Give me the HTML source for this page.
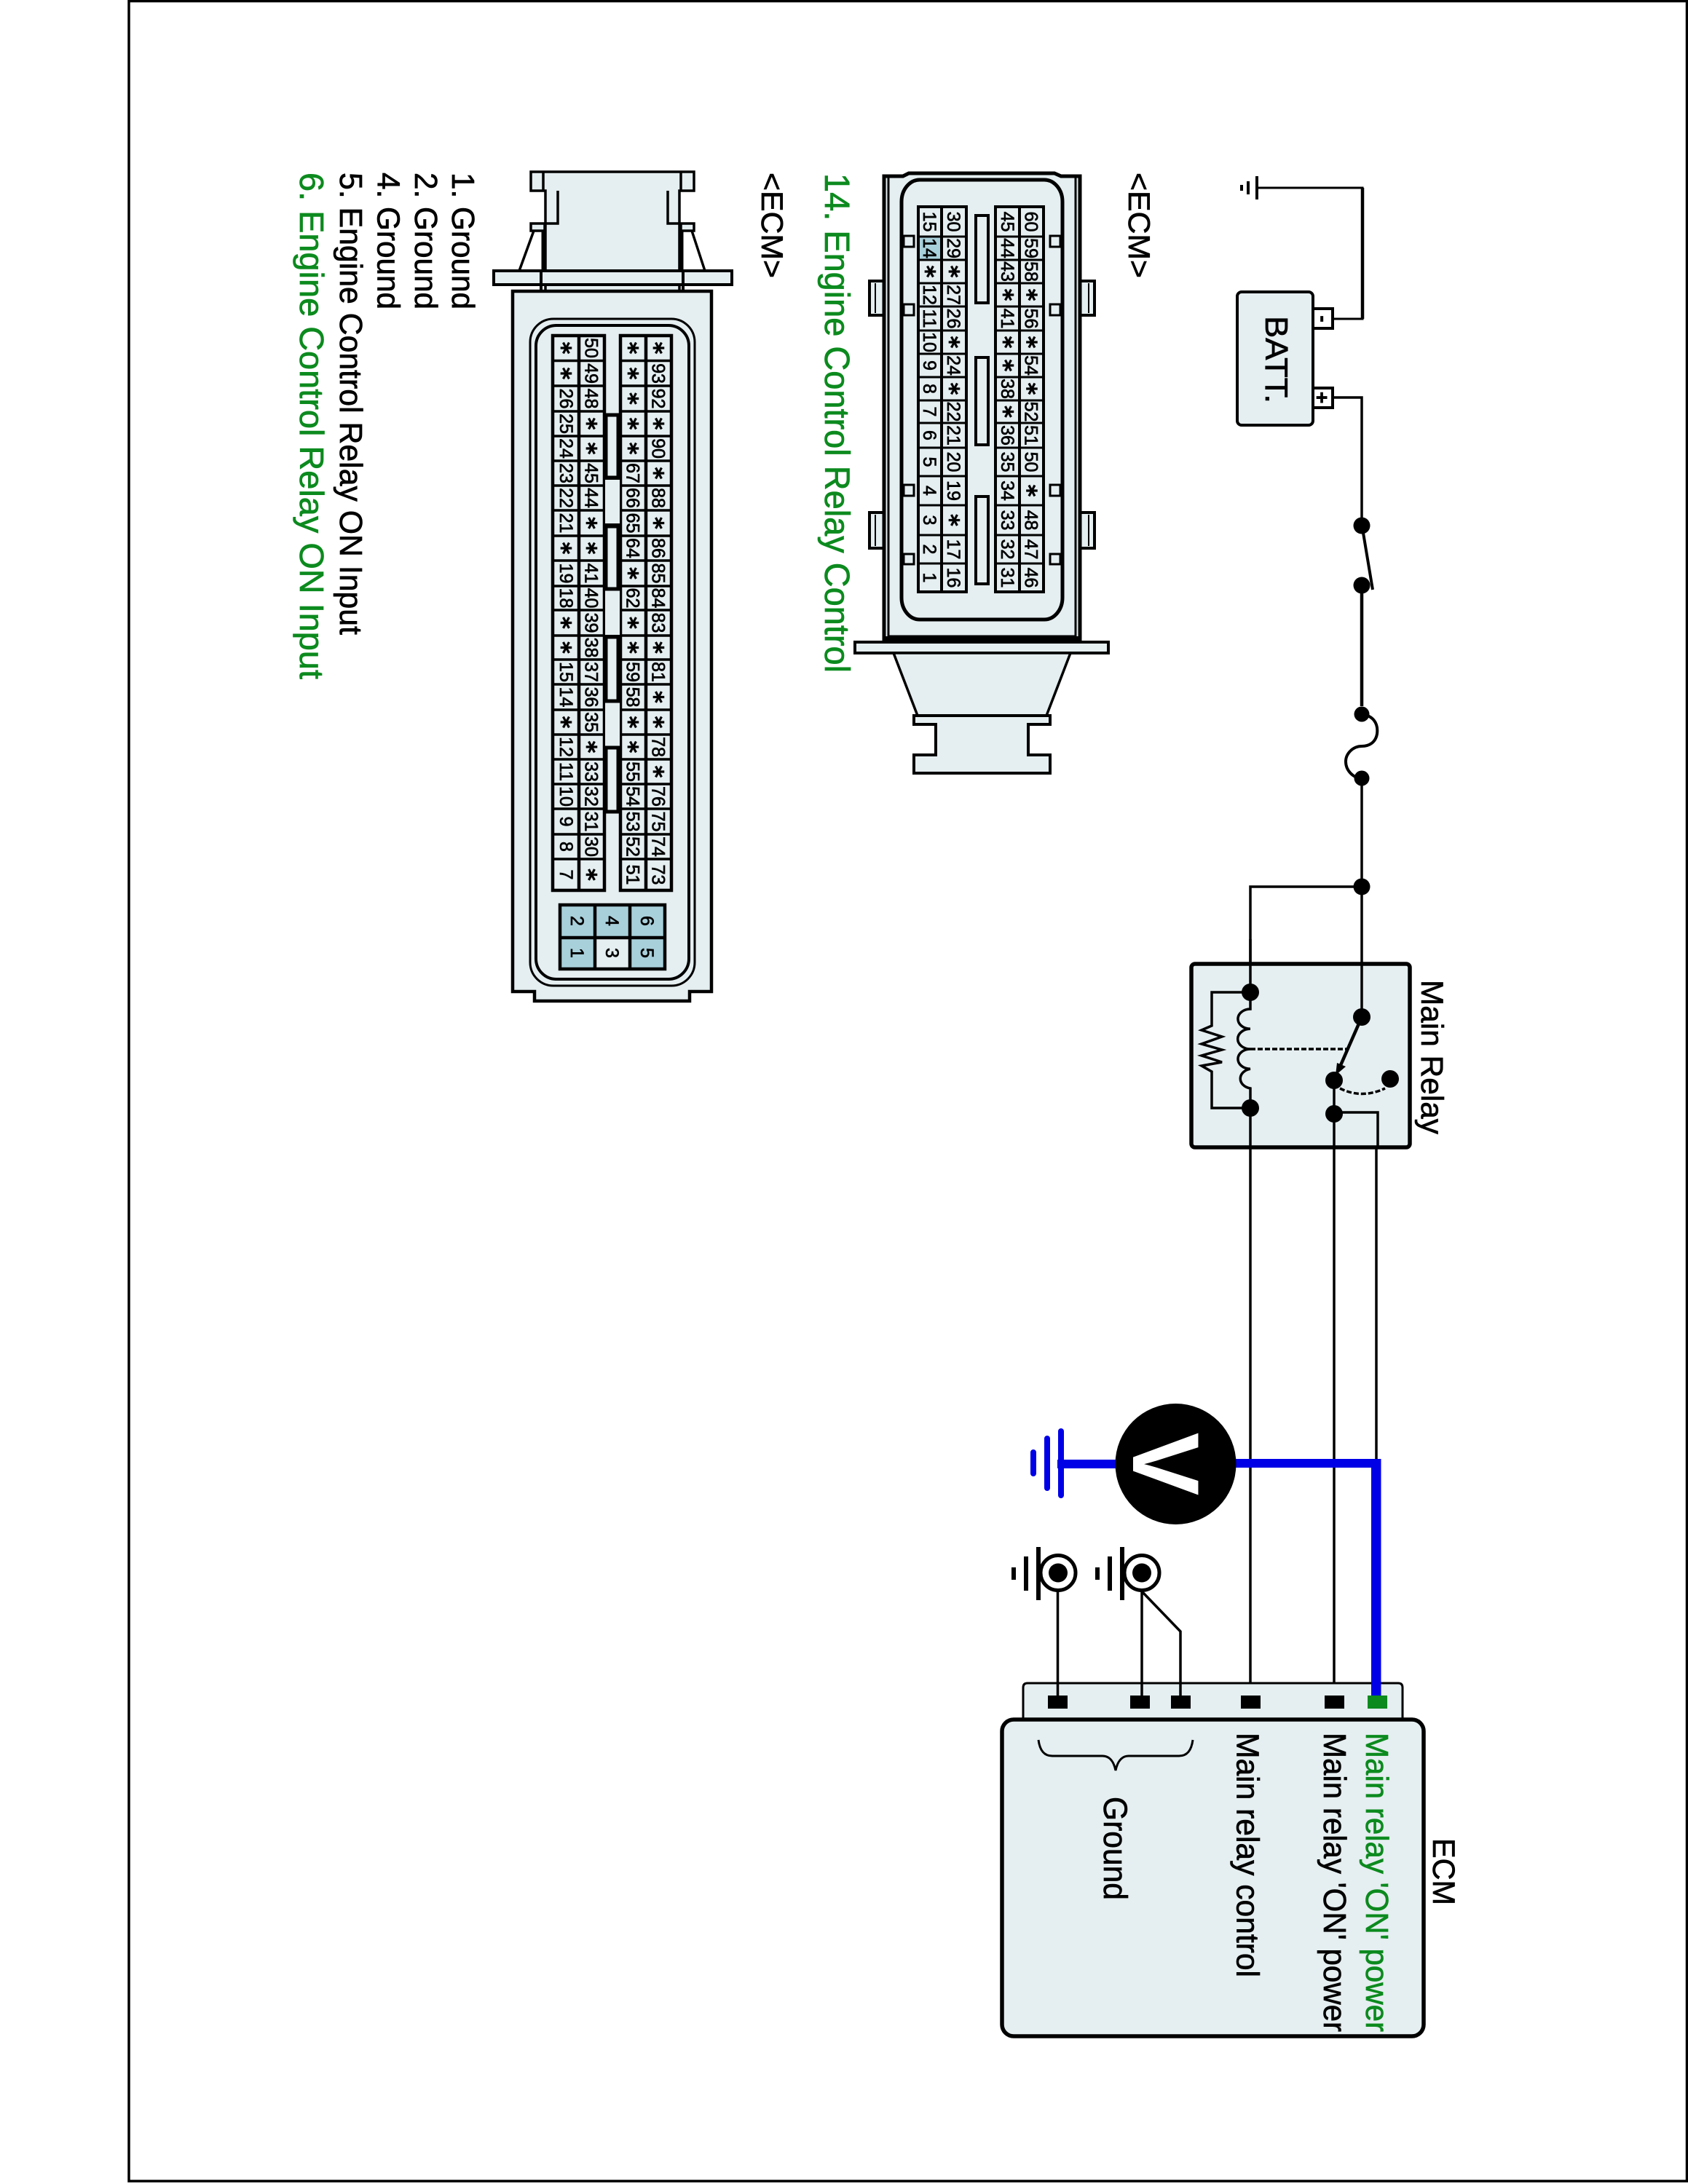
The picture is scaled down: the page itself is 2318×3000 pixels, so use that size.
<!DOCTYPE html>
<html><head><meta charset="utf-8"><title>Main Relay Circuit</title>
<style>
html,body{margin:0;padding:0;background:#fff}
svg{display:block;stroke-width:3.5}
text{font-family:"Liberation Sans",sans-serif;fill:#000;stroke:#000;stroke-width:.7}
text.g{fill:#0c8a1e;stroke:#0c8a1e}
.p{font-size:25px;text-anchor:middle}
.s{font-family:"DejaVu Sans",sans-serif;font-weight:bold;font-size:32px;text-anchor:middle}
.l{fill:#e5eef0;stroke:#000}
.n{fill:none;stroke:#000}
</style></head><body>
<svg width="2318" height="3000" viewBox="0 0 2318 3000" xmlns="http://www.w3.org/2000/svg">
<rect width="2318" height="3000" fill="#fff"/>
<path d="M177 0V2996H2316.5V1.5H177" fill="none" stroke="#000" stroke-width="3.5"/>

<!-- connector 1 -->
<path class="l" d="M1174 882H1522V897H1174Z" stroke-width="4"/>
<path class="l" d="M1227 897L1260 983H1437L1470 897Z" stroke-width="3.5"/>
<path class="l" d="M1255 983H1442V995H1412V1037H1442V1062H1255V1037H1285V995H1255Z" stroke-width="4"/>
<path class="l" stroke-width="4" d="M1194 386H1215V433H1194ZM1194 704H1215V753H1194ZM1482 386H1503V433H1482ZM1482 704H1503V753H1482Z"/>
<path class="n" stroke-width="2" d="M1202 389V430M1202 707V750M1495 389V430M1495 707V750"/>
<path class="l" stroke-width="5" d="M1214 242H1240L1248 238H1448L1457 242H1483V880H1214Z"/>
<path class="n" stroke-width="3" d="M1220 244V874H1477V244"/>
<path class="n" stroke-width="4" d="M1214 876H1483"/>
<rect x="1238" y="247" width="221" height="604" rx="25" ry="30" fill="#e5eef0" stroke="#000" stroke-width="5"/>
<path class="l" stroke-width="3" d="M1241 324H1255V339H1241ZM1241 418H1255V433H1241ZM1241 666H1255V681H1241ZM1241 761H1255V775H1241ZM1442 324H1456V339H1442ZM1442 418H1456V433H1442ZM1442 666H1456V681H1442ZM1442 761H1456V775H1442Z"/>
<rect x="1340" y="296" width="17" height="120" class="l" stroke-width="4"/>
<rect x="1340" y="491" width="17" height="120" class="l" stroke-width="4"/>
<rect x="1340" y="682" width="17" height="120" class="l" stroke-width="4"/>
<rect x="1262" y="325" width="31" height="32" fill="#a8d0db"/>
<path class="n" d="M1261 284H1327V813H1261ZM1293 284V813M1367 284H1433V813H1367ZM1400 284V813" stroke-width="4"/>
<path class="n" stroke-width="3" d="M1261 325H1327M1261 357H1327M1261 389H1327M1261 421H1327M1261 454H1327M1261 486H1327M1261 518H1327M1261 550H1327M1261 581H1327M1261 615H1327M1261 654H1327M1261 694H1327M1261 735H1327M1261 774H1327M1367 325H1433M1367 357H1433M1367 389H1433M1367 421H1433M1367 454H1433M1367 486H1433M1367 518H1433M1367 550H1433M1367 581H1433M1367 615H1433M1367 654H1433M1367 694H1433M1367 735H1433M1367 774H1433"/>

<!-- connector 2 -->
<path class="l" d="M729 236H953V262H933V400H749V262H729Z"/>
<path class="n" d="M746 236V262M935 236V262M766 262V307H749M917 262V307H933"/>
<path class="l" d="M729 307H748V317H729ZM935 307H953V317H935Z"/>
<path class="n" d="M733 317L713 372M950 317L968 372"/>
<path d="M746 317V372M936 317V372" stroke="#000" stroke-width="5" fill="none"/>
<path class="l" d="M678 372H1005V391H678Z" stroke-width="4"/>
<path class="n" d="M743 372V400M938 372V400" stroke-width="4"/>
<path class="l" stroke-width="4.5" d="M704 400H977V1362H947V1375H734V1362H704Z"/>
<rect x="728" y="438" width="226" height="916" rx="32" fill="none" stroke="#000" stroke-width="3"/>
<rect x="736" y="447" width="210" height="898" rx="28" fill="none" stroke="#000" stroke-width="4"/>
<path class="n" d="M759 461H830V1223H759ZM795 461V1223M852 461H922V1223H852ZM887 461V1223" stroke-width="4.5"/>
<path class="n" stroke-width="3.5" d="M759 495.5H830M759 530H830M759 565H830M759 599H830M759 633H830M759 667H830M759 701H830M759 736H830M759 770H830M759 805H830M759 838H830M759 873H830M759 906H830M759 940H830M759 975H830M759 1009H830M759 1043H830M759 1077H830M759 1111H830M759 1146H830M759 1180H830M852 495.5H922M852 530H922M852 565H922M852 599H922M852 633H922M852 667H922M852 701H922M852 736H922M852 770H922M852 805H922M852 838H922M852 873H922M852 906H922M852 940H922M852 975H922M852 1009H922M852 1043H922M852 1077H922M852 1111H922M852 1146H922M852 1180H922"/>
<path fill="#e5eef0" stroke="#000" stroke-width="2" d="M830 658H852V720H830ZM830 809H852V873H830ZM830 963H852V1027H830Z"/>
<rect x="832" y="570" width="17" height="86" class="l" stroke-width="5"/>
<rect x="832" y="723" width="17" height="86" class="l" stroke-width="5"/>
<rect x="832" y="875" width="17" height="88" class="l" stroke-width="5"/>
<rect x="832" y="1027" width="17" height="88" class="l" stroke-width="5"/>
<rect x="769" y="1243" width="144" height="88" fill="#a8d0db"/>
<rect x="817" y="1288" width="48" height="43" fill="#e5eef0"/>
<path class="n" stroke-width="4.5" d="M769 1243H913V1331H769ZM817 1243V1331M865 1243V1331M769 1288H913"/>

<!-- battery section -->
<path class="n" d="M1726 258H1871V438H1830" stroke-width="3"/>
<path d="M1871 258V438" stroke="#000" stroke-width="4.5"/>
<path d="M1726 242V274M1714 249V267M1705 254V262" stroke="#000" stroke-width="4" fill="none"/>
<rect x="1699" y="401" width="104" height="183" rx="6" class="l" stroke-width="4"/>
<path d="M1803 424H1830V451H1803ZM1803 533H1830V560H1803Z" fill="#fff" stroke="#000" stroke-width="4"/>
<path class="n" d="M1830 546H1870V722"/>
<circle cx="1870" cy="722" r="11.5"/><circle cx="1870" cy="804" r="11.5"/>
<path d="M1872 732L1885 810" stroke="#000" stroke-width="4" fill="none"/>
<path d="M1870 804V970" stroke="#000" stroke-width="4.5"/>
<circle cx="1870" cy="981" r="10.5"/><circle cx="1870" cy="1069" r="10.5"/>
<path class="n" stroke-width="4" d="M1870 981C1885 983 1893 993 1891 1008C1889 1020 1880 1025 1870 1025C1858 1025 1848 1035 1848 1046C1848 1058 1858 1069 1870 1069"/>
<path class="n" d="M1870 1069V1324M1870 1218H1717V1363"/>
<circle cx="1870" cy="1218" r="11.5"/>

<!-- relay -->
<rect x="1636" y="1324" width="300" height="252" rx="5" fill="#e5eef0" stroke="#000" stroke-width="5.5"/>
<path class="n" d="M1717 1290V1386A17 13.6 0 0 0 1717 1413.3A17 13.6 0 0 0 1717 1441A17 13.6 0 0 0 1717 1468.3A17 13.6 0 0 0 1717 1495V1576"/>
<path class="n" d="M1717 1363H1664V1409L1650 1415L1678 1424L1650 1434L1678 1442L1650 1450L1678 1459L1650 1464L1664 1472V1522H1717"/>
<path class="n" stroke-dasharray="7 3" d="M1717 1441H1852"/>
<path d="M1870 1324V1397" class="n"/>
<path d="M1870 1397L1838 1470" stroke="#000" stroke-width="4.5" fill="none"/>
<path d="M1834 1477L1836 1460L1848 1465Z"/>
<path class="n" stroke-dasharray="7 3" d="M1840 1495Q1870 1510 1902 1495"/>
<path class="n" d="M1832 1484V1576M1832 1528H1892V1576"/>
<circle cx="1717" cy="1363" r="12"/><circle cx="1717" cy="1522" r="12"/><circle cx="1870" cy="1397" r="12"/><circle cx="1832" cy="1484" r="12"/><circle cx="1909" cy="1482" r="12"/><circle cx="1832" cy="1530" r="12"/>
<path class="n" d="M1717 1576V2329M1832 1576V2329M1890 1576V2005"/>

<!-- ECM box -->
<path class="l" d="M1405 2362V2318Q1405 2312 1411 2312H1920Q1926 2312 1926 2318V2362" stroke-width="3"/>
<rect x="1376" y="2362" width="579" height="435" rx="16" fill="#e5eef0" stroke="#000" stroke-width="5.5"/>
<path d="M1439 2329h27v18h-27zM1552 2329h27v18h-27zM1608 2329h27v18h-27zM1704 2329h27v18h-27zM1819 2329h27v18h-27z"/>
<rect x="1878" y="2329" width="27" height="18" fill="#0c8a1e"/>
<path class="n" stroke-width="3" d="M1426 2390C1428 2405 1434 2412 1445 2412H1514C1525 2412 1530 2422 1532 2432C1534 2422 1539 2412 1550 2412H1619C1630 2412 1636 2405 1638 2390"/>
<path class="n" d="M1452.5 2186V2329M1568 2186V2329M1568 2186L1621 2241V2329"/>

<!-- grounds -->
<g fill="none" stroke="#000">
<circle cx="1453" cy="2160.5" r="24" stroke-width="5" fill="#fff"/>
<circle cx="1568" cy="2160.5" r="24" stroke-width="5" fill="#fff"/>
<path stroke-width="6" d="M1426 2125V2198M1409 2138V2185M1392 2153V2170M1541 2125V2198M1524 2138V2185M1507 2153V2170"/>
</g>
<circle cx="1453" cy="2160.5" r="13"/><circle cx="1568" cy="2160.5" r="13"/>

<!-- voltmeter -->
<path d="M1452 2011H1697M1697 2010H1889V2329" fill="none" stroke="#0000e6" stroke-width="12"/>
<path d="M1890 2004V2329" stroke="#0000e6" stroke-width="13" fill="none"/>
<path d="M1457 1966V2054M1438 1976V2044M1419 1995V2024" stroke="#0000e6" stroke-width="8" stroke-linecap="round" fill="none"/>
<ellipse cx="1614.5" cy="2011" rx="83" ry="83"/>

<!-- all rotated text: inside this group x = page y, y = -(page x) -->
<g transform="rotate(90)">
<text x="238" y="-1133" font-size="48" class="g" textLength="686" lengthAdjust="spacingAndGlyphs">14. Engine Control Relay Control</text>
<text x="237" y="-1550" font-size="42" textLength="145" lengthAdjust="spacingAndGlyphs">&lt;ECM&gt;</text>
<text x="237" y="-1046" font-size="42" textLength="145" lengthAdjust="spacingAndGlyphs">&lt;ECM&gt;</text>
<text x="237" y="-621" font-size="44" textLength="188" lengthAdjust="spacingAndGlyphs">1. Ground</text>
<text x="237" y="-570" font-size="44" textLength="188" lengthAdjust="spacingAndGlyphs">2. Ground</text>
<text x="237" y="-518.5" font-size="44" textLength="188" lengthAdjust="spacingAndGlyphs">4. Ground</text>
<text x="237" y="-467" font-size="44" textLength="635" lengthAdjust="spacingAndGlyphs">5. Engine Control Relay ON Input</text>
<text x="237" y="-412" font-size="46" class="g" textLength="696" lengthAdjust="spacingAndGlyphs">6. Engine Control Relay ON Input</text>
<text x="434" y="-1738" font-size="44" textLength="120" lengthAdjust="spacingAndGlyphs">BATT.</text>
<text x="1346" y="-1952" font-size="43" textLength="212" lengthAdjust="spacingAndGlyphs">Main Relay</text>
<text x="2525" y="-1968" font-size="43" textLength="92" lengthAdjust="spacingAndGlyphs">ECM</text>
<text x="2380" y="-1876" font-size="44" class="g" textLength="411" lengthAdjust="spacingAndGlyphs">Main relay 'ON' power</text>
<text x="2380" y="-1818" font-size="44" textLength="411" lengthAdjust="spacingAndGlyphs">Main relay 'ON' power</text>
<text x="2380" y="-1698.5" font-size="44" textLength="336" lengthAdjust="spacingAndGlyphs">Main relay control</text>
<text x="2468" y="-1516" font-size="45" textLength="142" lengthAdjust="spacingAndGlyphs">Ground</text>
<text x="438" y="-1808" font-size="28" font-weight="bold" text-anchor="middle">-</text>
<text x="546" y="-1806" font-size="28" font-weight="bold" text-anchor="middle">+</text>
<text x="2011" y="-1556" font-size="130" font-weight="bold" text-anchor="middle" style="fill:#fff;stroke:none">V</text>

<!-- connector 1 pins -->
<g>
<text class="p" x="304.5" y="-1268">15</text><text class="p" x="341" y="-1268">14</text><text class="s" x="373" y="-1261">*</text><text class="p" x="405" y="-1268">12</text><text class="p" x="437.5" y="-1268">11</text><text class="p" x="470" y="-1268">10</text><text class="p" x="502" y="-1268">9</text><text class="p" x="534" y="-1268">8</text><text class="p" x="565.5" y="-1268">7</text><text class="p" x="598" y="-1268">6</text><text class="p" x="634.5" y="-1268">5</text><text class="p" x="674" y="-1268">4</text><text class="p" x="714.5" y="-1268">3</text><text class="p" x="754.5" y="-1268">2</text><text class="p" x="793.5" y="-1268">1</text>
<text class="p" x="304.5" y="-1301">30</text><text class="p" x="341" y="-1301">29</text><text class="s" x="373" y="-1294">*</text><text class="p" x="405" y="-1301">27</text><text class="p" x="437.5" y="-1301">26</text><text class="s" x="470" y="-1294">*</text><text class="p" x="502" y="-1301">24</text><text class="s" x="534" y="-1294">*</text><text class="p" x="565.5" y="-1301">22</text><text class="p" x="598" y="-1301">21</text><text class="p" x="634.5" y="-1301">20</text><text class="p" x="674" y="-1301">19</text><text class="s" x="714.5" y="-1294">*</text><text class="p" x="754.5" y="-1301">17</text><text class="p" x="793.5" y="-1301">16</text>
<text class="p" x="304.5" y="-1375">45</text><text class="p" x="341" y="-1375">44</text><text class="p" x="373" y="-1375">43</text><text class="s" x="405" y="-1368">*</text><text class="p" x="437.5" y="-1375">41</text><text class="s" x="470" y="-1368">*</text><text class="s" x="502" y="-1368">*</text><text class="p" x="534" y="-1375">38</text><text class="s" x="565.5" y="-1368">*</text><text class="p" x="598" y="-1375">36</text><text class="p" x="634.5" y="-1375">35</text><text class="p" x="674" y="-1375">34</text><text class="p" x="714.5" y="-1375">33</text><text class="p" x="754.5" y="-1375">32</text><text class="p" x="793.5" y="-1375">31</text>
<text class="p" x="304.5" y="-1407.5">60</text><text class="p" x="341" y="-1407.5">59</text><text class="p" x="373" y="-1407.5">58</text><text class="s" x="405" y="-1400.5">*</text><text class="p" x="437.5" y="-1407.5">56</text><text class="s" x="470" y="-1400.5">*</text><text class="p" x="502" y="-1407.5">54</text><text class="s" x="534" y="-1400.5">*</text><text class="p" x="565.5" y="-1407.5">52</text><text class="p" x="598" y="-1407.5">51</text><text class="p" x="634.5" y="-1407.5">50</text><text class="s" x="674" y="-1400.5">*</text><text class="p" x="714.5" y="-1407.5">48</text><text class="p" x="754.5" y="-1407.5">47</text><text class="p" x="793.5" y="-1407.5">46</text>
</g>

<!-- connector 2 pins -->
<g>
<text class="s" x="478" y="-761">*</text><text class="s" x="513" y="-761">*</text><text class="p" x="547.5" y="-769">26</text><text class="p" x="582" y="-769">25</text><text class="p" x="616" y="-769">24</text><text class="p" x="650" y="-769">23</text><text class="p" x="684" y="-769">22</text><text class="p" x="718.5" y="-769">21</text><text class="s" x="753" y="-761">*</text><text class="p" x="787.5" y="-769">19</text><text class="p" x="821.5" y="-769">18</text><text class="s" x="855.5" y="-761">*</text><text class="s" x="889.5" y="-761">*</text><text class="p" x="923" y="-769">15</text><text class="p" x="957.5" y="-769">14</text><text class="s" x="992" y="-761">*</text><text class="p" x="1026" y="-769">12</text><text class="p" x="1060" y="-769">11</text><text class="p" x="1094" y="-769">10</text><text class="p" x="1128.5" y="-769">9</text><text class="p" x="1163" y="-769">8</text><text class="p" x="1201.5" y="-769">7</text>
<text class="p" x="478" y="-803.5">50</text><text class="p" x="513" y="-803.5">49</text><text class="p" x="547.5" y="-803.5">48</text><text class="s" x="582" y="-796">*</text><text class="s" x="616" y="-796">*</text><text class="p" x="650" y="-803.5">45</text><text class="p" x="684" y="-803.5">44</text><text class="s" x="718.5" y="-796">*</text><text class="s" x="753" y="-796">*</text><text class="p" x="787.5" y="-803.5">41</text><text class="p" x="821.5" y="-803.5">40</text><text class="p" x="855.5" y="-803.5">39</text><text class="p" x="889.5" y="-803.5">38</text><text class="p" x="923" y="-803.5">37</text><text class="p" x="957.5" y="-803.5">36</text><text class="p" x="992" y="-803.5">35</text><text class="s" x="1026" y="-796">*</text><text class="p" x="1060" y="-803.5">33</text><text class="p" x="1094" y="-803.5">32</text><text class="p" x="1128.5" y="-803.5">31</text><text class="p" x="1163" y="-803.5">30</text><text class="s" x="1201.5" y="-796">*</text>
<text class="s" x="478" y="-853">*</text><text class="s" x="513" y="-853">*</text><text class="s" x="547.5" y="-853">*</text><text class="s" x="582" y="-853">*</text><text class="s" x="616" y="-853">*</text><text class="p" x="650" y="-860.5">67</text><text class="p" x="684" y="-860.5">66</text><text class="p" x="718.5" y="-860.5">65</text><text class="p" x="753" y="-860.5">64</text><text class="s" x="787.5" y="-853">*</text><text class="p" x="821.5" y="-860.5">62</text><text class="s" x="855.5" y="-853">*</text><text class="s" x="889.5" y="-853">*</text><text class="p" x="923" y="-860.5">59</text><text class="p" x="957.5" y="-860.5">58</text><text class="s" x="992" y="-853">*</text><text class="s" x="1026" y="-853">*</text><text class="p" x="1060" y="-860.5">55</text><text class="p" x="1094" y="-860.5">54</text><text class="p" x="1128.5" y="-860.5">53</text><text class="p" x="1163" y="-860.5">52</text><text class="p" x="1201.5" y="-860.5">51</text>
<text class="s" x="478" y="-888">*</text><text class="p" x="513" y="-895.5">93</text><text class="p" x="547.5" y="-895.5">92</text><text class="s" x="582" y="-888">*</text><text class="p" x="616" y="-895.5">90</text><text class="s" x="650" y="-888">*</text><text class="p" x="684" y="-895.5">88</text><text class="s" x="718.5" y="-888">*</text><text class="p" x="753" y="-895.5">86</text><text class="p" x="787.5" y="-895.5">85</text><text class="p" x="821.5" y="-895.5">84</text><text class="p" x="855.5" y="-895.5">83</text><text class="s" x="889.5" y="-888">*</text><text class="p" x="923" y="-895.5">81</text><text class="s" x="957.5" y="-888">*</text><text class="s" x="992" y="-888">*</text><text class="p" x="1026" y="-895.5">78</text><text class="s" x="1060" y="-888">*</text><text class="p" x="1094" y="-895.5">76</text><text class="p" x="1128.5" y="-895.5">75</text><text class="p" x="1163" y="-895.5">74</text><text class="p" x="1201.5" y="-895.5">73</text>
<text class="p" x="1265" y="-784">2</text><text class="p" x="1265" y="-832">4</text><text class="p" x="1265" y="-880">6</text><text class="p" x="1309" y="-784">1</text><text class="p" x="1309" y="-832">3</text><text class="p" x="1309" y="-880">5</text>
</g>
</g>
</svg>
</body></html>
